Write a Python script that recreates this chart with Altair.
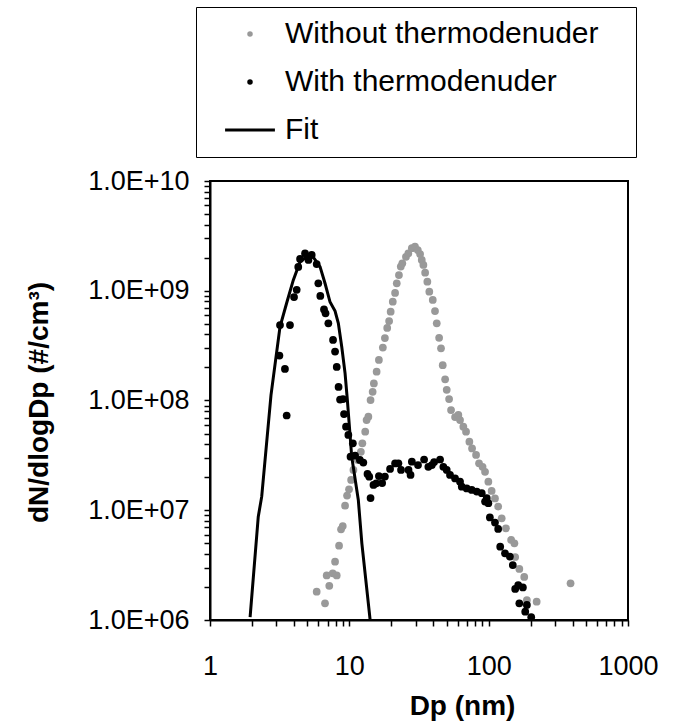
import altair as alt
import pandas as pd

# ---- data ----
series_names = ["Without thermodenuder", "With thermodenuder", "Fit"]
series_colors = ["#999999", "#000000", "#000000"]

gray_dp = [5.83, 6.69, 6.88, 7.18, 7.60, 7.90, 8.12, 8.44, 8.72, 8.97, 9.32, 9.63, 9.95, 10.3, 10.7,
           11.5, 12.1, 12.4, 13.0, 13.3, 13.7, 14.2, 14.7, 15.0, 15.7, 16.3, 17.4, 18.0, 18.7, 19.3,
           19.8, 20.5, 21.3, 21.9, 22.7, 23.4, 24.0, 25.5, 26.5, 28.1, 29.6, 31.0, 32.2, 33.1, 34.0,
           35.0, 36.3, 37.5, 39.7, 41.2, 42.4, 44.1, 45.5, 46.8, 48.7, 50.0, 52.0, 53.7, 57.4, 60.6,
           62.3, 65.8, 68.8, 72.7, 76.0, 81.2, 85.3, 90.4, 94.2, 99.5, 105, 111, 117, 124, 133,
           145, 153, 155, 166, 180, 188, 221, 387]
gray_n = [1.81e6, 1.42e6, 2.55e6, 2.05e6, 2.66e6, 3.40e6, 2.55e6, 4.75e6, 6.70e6, 7.18e6, 1.10e7, 1.36e7, 1.55e7, 1.89e7, 2.33e7,
          2.87e7, 3.41e7, 4.07e7, 5.20e7, 6.64e7, 7.12e7, 1.01e8, 1.20e8, 1.43e8, 1.83e8, 2.34e8, 3.04e8, 3.71e8, 4.58e8, 5.30e8,
          6.44e8, 7.94e8, 9.54e8, 1.17e9, 1.39e9, 1.66e9, 1.78e9, 2.04e9, 2.19e9, 2.44e9, 2.52e9, 2.35e9, 2.16e9, 1.91e9, 1.72e9,
          1.46e9, 1.21e9, 9.80e8, 8.24e8, 6.53e8, 5.05e8, 3.73e8, 2.99e8, 2.10e8, 1.56e8, 1.25e8, 1.03e8, 8.19e7, 7.07e7, 7.38e7,
          6.64e7, 5.77e7, 5.20e7, 4.21e7, 3.66e7, 3.19e7, 2.68e7, 2.49e7, 2.24e7, 1.82e7, 1.50e7, 1.28e7, 1.08e7, 8.45e6, 6.84e6,
          5.36e6, 5.00e6, 3.75e6, 2.92e6, 2.47e6, 1.52e6, 1.47e6, 2.16e6]

black_dp = [3.15, 3.18, 3.45, 3.55, 3.75, 4.01, 4.19, 4.30, 4.43, 4.81, 5.09, 5.37, 5.83, 5.99, 6.19,
            6.58, 6.75, 7.07, 7.64, 7.90, 8.12, 8.37, 8.58, 9.01, 9.16, 9.47, 9.84, 10.2, 10.6, 11.0,
            11.9, 12.6, 13.5, 13.9, 14.2, 14.9, 15.6, 16.3, 17.2, 18.0, 19.6, 21.3, 22.5, 23.5, 26.6,
            27.5, 28.1, 31.1, 34.4, 36.9, 39.1, 40.6, 44.8, 47.3, 50.0, 52.8, 57.4, 62.3, 64.1, 69.6,
            75.6, 82.2, 89.2, 94.2, 96.9, 99.5, 102, 111, 117, 121, 131, 142, 149, 155, 163,
            166, 176, 183, 188, 202]
black_n = [2.57e8, 4.87e8, 1.94e8, 7.30e7, 4.87e8, 8.77e8, 1.02e9, 1.65e9, 1.95e9, 2.19e9, 1.91e9, 2.12e9, 1.75e9, 1.17e9, 8.96e8,
           6.75e8, 6.23e8, 5.05e8, 3.56e8, 2.79e8, 2.02e8, 1.33e8, 1.02e8, 1.03e8, 7.53e7, 5.77e7, 4.85e7, 3.08e7, 4.07e7, 3.15e7,
           2.87e7, 2.72e7, 2.14e7, 2.02e7, 1.29e7, 1.70e7, 1.76e7, 2.05e7, 1.77e7, 2.03e7, 2.38e7, 2.67e7, 2.68e7, 2.33e7, 2.33e7,
           2.10e7, 2.77e7, 2.58e7, 2.90e7, 2.49e7, 2.58e7, 2.75e7, 2.90e7, 2.49e7, 2.33e7, 2.10e7, 1.95e7, 1.82e7, 1.64e7, 1.58e7,
           1.53e7, 1.48e7, 1.43e7, 1.20e7, 1.29e7, 1.16e7, 8.59e6, 7.73e6, 6.75e6, 4.66e6, 4.05e6, 3.78e6, 3.17e6, 1.92e6, 2.08e6,
           1.42e6, 1.98e6, 1.19e6, 1.37e6, 1.06e6]

fit_dp = [1.94, 2.22, 2.35, 2.74, 3.18, 3.55, 3.96, 4.43, 4.95, 5.51, 6.16, 6.69, 7.27, 7.90, 8.34,
          8.82, 9.32, 9.68, 10.4, 11.6, 12.3, 14.1]
fit_n = [1.06e6, 8.73e6, 1.33e7, 1.12e8, 4.70e8, 7.73e8, 1.25e9, 1.84e9, 2.04e9, 2.02e9, 1.66e9, 1.17e9, 7.89e8, 6.53e8, 5.05e8,
         3.09e8, 1.77e8, 1.01e8, 3.08e7, 1.24e7, 5.00e6, 1.00e6]

x_ticks = [m * 10 ** e for e in range(0, 3) for m in range(1, 10)] + [1000]
y_ticks = [m * 10 ** e for e in range(6, 10) for m in range(1, 10)] + [1e10]

# ---- tables ----
pts = pd.concat([
    pd.DataFrame({"Dp": gray_dp, "N": gray_n, "series": series_names[0]}),
    pd.DataFrame({"Dp": black_dp, "N": black_n, "series": series_names[1]}),
], ignore_index=True)
fit = pd.DataFrame({"Dp": fit_dp, "N": fit_n, "series": series_names[2]})

FONT = "Liberation Sans"
is_decade = "abs(log(datum.value)/LN10 - round(log(datum.value)/LN10)) < 0.001"

xscale = alt.Scale(type="log", domain=[1, 1000], nice=False)
yscale = alt.Scale(type="log", domain=[1e6, 1e10], nice=False)

xaxis = alt.Axis(
    values=x_ticks,
    labelExpr=f"{is_decade} ? '' + round(datum.value) : ''",
    tickSize=6,
    labelPadding=27,
    labelFlush=False,
    labelOverlap=False,
    grid=False,
    title="Dp (nm)",
    titleX=252,
    titleY=86,
    titleAlign="center",
    titleBaseline="middle",
)
yaxis = alt.Axis(
    values=y_ticks,
    labelExpr=f"{is_decade} ? '1.0E+' + (round(log(datum.value)/LN10) < 10 ? '0' : '') + round(log(datum.value)/LN10) : ''",
    tickSize=6,
    labelPadding=15,
    labelOverlap=False,
    labelFlush=False,
    grid=False,
    title="dN/dlogDp (#/cm³)",
    titleX=-171,
    titleY=221,
    titleAngle=270,
    titleAlign="center",
    titleBaseline="middle",
)

cscale = alt.Scale(domain=series_names, range=series_colors)
# legend glyph for the fit: a thin filled bar
shscale = alt.Scale(domain=series_names, range=["circle", "circle", "M-9.1,-0.55H9.1V0.55H-9.1Z"])

legend = alt.Legend(
    title=None,
    orient="none",
    legendX=-14,
    legendY=-174,
    strokeColor="#000000",
    padding=12,
    symbolOffset=27,
    symbolSize=30,
    symbolStrokeWidth=0,
    labelOffset=20,
    rowPadding=18,
    labelFont=FONT,
    labelFontSize=30,
    labelColor="#000000",
    labelLimit=700,
    labelExpr="datum.label + '   \u200b'",
)

points = alt.Chart(pts).mark_point(filled=True, size=60, opacity=1, clip=True).encode(
    x=alt.X("Dp:Q", scale=xscale, axis=xaxis),
    y=alt.Y("N:Q", scale=yscale, axis=yaxis),
    color=alt.Color("series:N", scale=cscale, legend=legend),
    shape=alt.Shape("series:N", scale=shscale, legend=legend),
)

fit_line = alt.Chart(fit).mark_line(strokeWidth=3, clip=True).encode(
    x=alt.X("Dp:Q", scale=xscale),
    y=alt.Y("N:Q", scale=yscale),
    color=alt.Color("series:N", scale=cscale, legend=None),
)

chart = alt.layer(points, fit_line).properties(
    width=418,
    height=439,
    autosize=alt.AutoSizeParams(type="none"),
    padding={"left": 210, "top": 181, "right": 45, "bottom": 107},
    background="white",
).configure_view(
    stroke="#000000", strokeWidth=2
).configure_axis(
    domainColor="#000000",
    domainWidth=2,
    tickColor="#000000",
    tickWidth=1.5,
    labelFont=FONT,
    labelFontSize=27,
    labelColor="#000000",
    titleFont=FONT,
    titleFontSize=28,
    titleFontWeight="bold",
    titleColor="#000000",
)

chart.save("out.html", embed_options={"renderer": "svg", "actions": False})
